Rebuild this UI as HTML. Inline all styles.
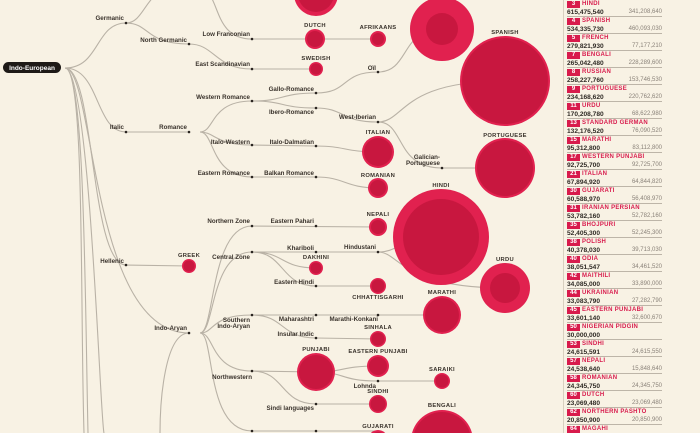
<!DOCTYPE html>
<html><head><meta charset="utf-8"><style>
html,body{margin:0;padding:0;background:#f8f2e4;}
body{width:700px;height:433px;overflow:hidden;position:relative;font-family:"Liberation Sans",sans-serif;}
svg{position:absolute;left:0;top:0}
.t{font-size:6.2px;font-weight:bold;fill:#3a332c}
.c{font-size:5.8px;font-weight:bold;fill:#3a332c;text-anchor:middle;letter-spacing:0.3px}
#panel{position:absolute;left:563px;top:0;width:100px;height:433px;border-left:1px solid #d8d0c0;overflow:hidden}
.row{position:absolute;left:3px;width:95px;height:17px;border-bottom:1px solid #bdb5a8;box-sizing:border-box}
.b{position:absolute;left:0;top:1px;width:13px;height:7px;background:#d81b4c;color:#fff;font-size:6px;font-weight:bold;line-height:7px;text-align:center}
.n{position:absolute;left:15px;top:0;font-size:6px;font-weight:bold;color:#d81b4c;line-height:9px;letter-spacing:0.3px;white-space:nowrap}
.v{position:absolute;left:0;top:8px;font-size:6.6px;font-weight:bold;color:#2f2a25;line-height:9px}
.g{position:absolute;right:0;top:8px;font-size:6px;color:#8a8279;line-height:9px}
</style></head><body>
<svg width="700" height="433" viewBox="0 0 700 433">
<g fill="none" stroke="#b9b2a6" stroke-width="1.1">
<path d="M65,68 C100,68 95,23 126,23"/>
<path d="M126,23 C145,23 145,-10 175,-15"/>
<path d="M126,23 C150,23 145,44 189,44"/>
<path d="M189,44 C215,44 215,69 252,69 L316,69"/>
<path d="M205,-10 C220,0 215,39 252,39 L378,39"/>
<path d="M252,-15 C265,-10 270,-6 316,-6"/>
<path d="M65,68 C100,68 95,132 126,132 L189,132"/>
<path d="M200,132 C215,132 210,101 252,101"/>
<path d="M200,132 C215,132 215,145 252,145 L316,146"/>
<path d="M200,132 C215,132 210,177 252,177 L316,177"/>
<path d="M252,101 C285,101 280,93 316,93"/>
<path d="M252,101 C285,101 280,108 316,108"/>
<path d="M316,93 C350,93 340,72 378,72 C410,72 400,29 442,29"/>
<path d="M316,108 C345,108 340,122 378,122"/>
<path d="M378,122 C405,122 400,81 505,81"/>
<path d="M378,122 C405,122 395,168 442,168 L505,168"/>
<path d="M316,146 C345,146 345,152 378,152"/>
<path d="M316,177 C345,177 345,188 378,188"/>
<path d="M65,68 C95,68 90,265 126,265 L189,266"/>
<path d="M65,68 C85,68 80,300 84,433"/>
<path d="M65,68 C85,68 85,300 88,433"/>
<path d="M65,68 C95,68 90,333 189,333"/>
<path d="M65,68 C90,68 100,420 104,433"/>
<path d="M200,333 C215,333 210,226 252,226 L378,227"/>
<path d="M200,333 C215,333 210,252 252,252 L378,252"/>
<path d="M200,333 C215,333 210,315 252,315 L442,315"/>
<path d="M200,333 C215,333 210,371 252,371 L316,372"/>
<path d="M200,333 C215,333 205,431 252,431 L378,431"/>
<path d="M160,433 C160,400 165,333 189,333"/>
<path d="M252,252 C285,252 280,268 316,268"/>
<path d="M252,252 C285,252 280,286 316,286 L378,286"/>
<path d="M378,252 C400,252 400,237 442,237"/>
<path d="M378,252 C400,252 400,288 505,288"/>
<path d="M252,315 C285,315 280,338 316,338 L378,339"/>
<path d="M316,372 C345,372 340,366 378,366"/>
<path d="M316,372 C345,372 340,381 378,381 L442,381"/>
<path d="M252,371 C285,371 280,404 316,404 L378,404"/>
</g>
<g fill="#e1214f">
<circle cx="316" cy="-6" r="22"/><circle cx="315" cy="39" r="10"/><circle cx="378" cy="39" r="8"/>
<circle cx="316" cy="69" r="7"/><circle cx="442" cy="29" r="32"/><circle cx="505" cy="81" r="45"/>
<circle cx="505" cy="168" r="30"/><circle cx="378" cy="152" r="16"/><circle cx="378" cy="188" r="10"/>
<circle cx="441" cy="237" r="48"/><circle cx="505" cy="288" r="25"/><circle cx="378" cy="227" r="9"/>
<circle cx="316" cy="268" r="7"/><circle cx="378" cy="286" r="8"/><circle cx="442" cy="315" r="19"/>
<circle cx="378" cy="339" r="8"/><circle cx="316" cy="372" r="19"/><circle cx="378" cy="366" r="11"/>
<circle cx="442" cy="381" r="8"/><circle cx="378" cy="404" r="9"/><circle cx="442" cy="441" r="31"/>
<circle cx="378" cy="440" r="10"/><circle cx="189" cy="266" r="7"/>
</g>
<g fill="#c8173f">
<circle cx="316" cy="-6" r="18"/><circle cx="315" cy="39" r="8"/><circle cx="378" cy="39" r="6"/>
<circle cx="316" cy="69" r="5.5"/><circle cx="442" cy="29" r="16"/><circle cx="505" cy="81" r="43"/>
<circle cx="505" cy="168" r="28"/><circle cx="378" cy="152" r="14"/><circle cx="378" cy="188" r="8"/>
<circle cx="441" cy="237" r="38"/><circle cx="505" cy="288" r="15"/><circle cx="378" cy="227" r="7"/>
<circle cx="316" cy="268" r="5.5"/><circle cx="378" cy="286" r="6.5"/><circle cx="442" cy="315" r="17"/>
<circle cx="378" cy="339" r="6.5"/><circle cx="316" cy="372" r="17"/><circle cx="378" cy="366" r="9"/>
<circle cx="442" cy="381" r="6.5"/><circle cx="378" cy="404" r="7.5"/><circle cx="442" cy="441" r="29"/>
<circle cx="378" cy="440" r="8"/><circle cx="189" cy="266" r="5.5"/>
</g>
<g fill="#2a2520">
<circle cx="126" cy="23" r="1.3"/><circle cx="189" cy="44" r="1.3"/><circle cx="252" cy="39" r="1.3"/><circle cx="252" cy="69" r="1.3"/>
<circle cx="126" cy="132" r="1.3"/><circle cx="189" cy="132" r="1.3"/><circle cx="252" cy="101" r="1.3"/><circle cx="252" cy="145" r="1.3"/><circle cx="252" cy="177" r="1.3"/>
<circle cx="316" cy="93" r="1.3"/><circle cx="316" cy="108" r="1.3"/><circle cx="316" cy="146" r="1.3"/><circle cx="316" cy="177" r="1.3"/>
<circle cx="378" cy="72" r="1.3"/><circle cx="378" cy="122" r="1.3"/><circle cx="442" cy="168" r="1.3"/>
<circle cx="126" cy="265" r="1.3"/><circle cx="189" cy="333" r="1.3"/><circle cx="252" cy="226" r="1.3"/><circle cx="252" cy="252" r="1.3"/>
<circle cx="252" cy="315" r="1.3"/><circle cx="252" cy="371" r="1.3"/><circle cx="252" cy="431" r="1.3"/><circle cx="316" cy="431" r="1.3"/>
<circle cx="316" cy="226" r="1.3"/><circle cx="316" cy="252" r="1.3"/><circle cx="316" cy="286" r="1.3"/><circle cx="378" cy="252" r="1.3"/>
<circle cx="316" cy="315" r="1.3"/><circle cx="378" cy="315" r="1.3"/><circle cx="316" cy="338" r="1.3"/><circle cx="378" cy="381" r="1.3"/><circle cx="316" cy="404" r="1.3"/>
</g>
<rect x="3" y="62" width="58" height="11" rx="5.5" fill="#1e1a17"/>
<text x="32" y="70" style="font-size:6.5px;font-weight:bold;fill:#fff;text-anchor:middle">Indo-European</text>
<g class="t" text-anchor="end">
<text x="124" y="20">Germanic</text><text x="187" y="42">North Germanic</text><text x="250" y="36">Low Franconian</text>
<text x="250" y="66">East Scandinavian</text><text x="250" y="99">Western Romance</text><text x="124" y="129">Italic</text>
<text x="187" y="129">Romance</text><text x="250" y="144">Italo-Western</text><text x="250" y="175">Eastern Romance</text>
<text x="314" y="91">Gallo-Romance</text><text x="314" y="114">Ibero-Romance</text><text x="314" y="144">Italo-Dalmatian</text>
<text x="314" y="175">Balkan Romance</text><text x="376" y="70">Oïl</text><text x="376" y="119">West-Iberian</text>
<text x="440" y="159">Galician-</text><text x="440" y="165">Portuguese</text>
<text x="124" y="263">Hellenic</text><text x="187" y="330">Indo-Aryan</text><text x="250" y="223">Northern Zone</text>
<text x="250" y="259">Central Zone</text><text x="250" y="322">Southern</text><text x="250" y="328">Indo-Aryan</text>
<text x="252" y="379">Northwestern</text><text x="314" y="223">Eastern Pahari</text><text x="314" y="250">Khariboli</text>
<text x="314" y="284">Eastern Hindi</text><text x="376" y="249">Hindustani</text><text x="314" y="321">Maharashtri</text>
<text x="378" y="321">Marathi-Konkani</text><text x="314" y="336">Insular Indic</text><text x="376" y="388">Lohnda</text>
<text x="314" y="410">Sindi languages</text>
</g>
<g class="c">
<text x="315" y="27">DUTCH</text><text x="378" y="29">AFRIKAANS</text><text x="316" y="60">SWEDISH</text>
<text x="505" y="34">SPANISH</text><text x="505" y="137">PORTUGUESE</text><text x="378" y="134">ITALIAN</text>
<text x="378" y="177">ROMANIAN</text><text x="441" y="187">HINDI</text><text x="505" y="261">URDU</text>
<text x="378" y="216">NEPALI</text><text x="316" y="259">DAKHINI</text><text x="378" y="299">CHHATTISGARHI</text>
<text x="442" y="294">MARATHI</text><text x="378" y="329">SINHALA</text><text x="316" y="351">PUNJABI</text>
<text x="378" y="353">EASTERN PUNJABI</text><text x="442" y="371">SARAIKI</text><text x="378" y="393">SINDHI</text>
<text x="442" y="407">BENGALI</text><text x="378" y="428">GUJARATI</text><text x="189" y="257">GREEK</text>
</g>
</svg>
<div id="panel">
<div class="row" style="top:0"><span class="b">3</span><span class="n">HINDI</span><span class="v">615,475,540</span><span class="g">341,208,640</span></div>
<div class="row" style="top:17px"><span class="b">4</span><span class="n">SPANISH</span><span class="v">534,335,730</span><span class="g">460,093,030</span></div>
<div class="row" style="top:34px"><span class="b">5</span><span class="n">FRENCH</span><span class="v">279,821,930</span><span class="g">77,177,210</span></div>
<div class="row" style="top:51px"><span class="b">7</span><span class="n">BENGALI</span><span class="v">265,042,480</span><span class="g">228,289,600</span></div>
<div class="row" style="top:68px"><span class="b">8</span><span class="n">RUSSIAN</span><span class="v">258,227,760</span><span class="g">153,746,530</span></div>
<div class="row" style="top:85px"><span class="b">9</span><span class="n">PORTUGUESE</span><span class="v">234,168,620</span><span class="g">220,762,620</span></div>
<div class="row" style="top:102px"><span class="b">11</span><span class="n">URDU</span><span class="v">170,208,780</span><span class="g">68,622,980</span></div>
<div class="row" style="top:119px"><span class="b">13</span><span class="n">STANDARD GERMAN</span><span class="v">132,176,520</span><span class="g">76,090,520</span></div>
<div class="row" style="top:136px"><span class="b">15</span><span class="n">MARATHI</span><span class="v">95,312,800</span><span class="g">83,112,800</span></div>
<div class="row" style="top:153px"><span class="b">17</span><span class="n">WESTERN PUNJABI</span><span class="v">92,725,700</span><span class="g">92,725,700</span></div>
<div class="row" style="top:170px"><span class="b">21</span><span class="n">ITALIAN</span><span class="v">67,894,920</span><span class="g">64,844,820</span></div>
<div class="row" style="top:187px"><span class="b">30</span><span class="n">GUJARATI</span><span class="v">60,588,970</span><span class="g">56,408,970</span></div>
<div class="row" style="top:204px"><span class="b">31</span><span class="n">IRANIAN PERSIAN</span><span class="v">53,782,160</span><span class="g">52,782,160</span></div>
<div class="row" style="top:221px"><span class="b">35</span><span class="n">BHOJPURI</span><span class="v">52,405,300</span><span class="g">52,245,300</span></div>
<div class="row" style="top:238px"><span class="b">38</span><span class="n">POLISH</span><span class="v">40,378,030</span><span class="g">39,713,030</span></div>
<div class="row" style="top:255px"><span class="b">40</span><span class="n">ODIA</span><span class="v">38,051,547</span><span class="g">34,461,520</span></div>
<div class="row" style="top:272px"><span class="b">42</span><span class="n">MAITHILI</span><span class="v">34,085,000</span><span class="g">33,890,000</span></div>
<div class="row" style="top:289px"><span class="b">44</span><span class="n">UKRAINIAN</span><span class="v">33,083,790</span><span class="g">27,282,790</span></div>
<div class="row" style="top:306px"><span class="b">45</span><span class="n">EASTERN PUNJABI</span><span class="v">33,601,140</span><span class="g">32,600,670</span></div>
<div class="row" style="top:323px"><span class="b">50</span><span class="n">NIGERIAN PIDGIN</span><span class="v">30,000,000</span></div>
<div class="row" style="top:340px"><span class="b">53</span><span class="n">SINDHI</span><span class="v">24,615,591</span><span class="g">24,615,550</span></div>
<div class="row" style="top:357px"><span class="b">57</span><span class="n">NEPALI</span><span class="v">24,538,640</span><span class="g">15,848,640</span></div>
<div class="row" style="top:374px"><span class="b">58</span><span class="n">ROMANIAN</span><span class="v">24,345,750</span><span class="g">24,345,750</span></div>
<div class="row" style="top:391px"><span class="b">60</span><span class="n">DUTCH</span><span class="v">23,069,480</span><span class="g">23,069,480</span></div>
<div class="row" style="top:408px"><span class="b">62</span><span class="n">NORTHERN PASHTO</span><span class="v">20,850,900</span><span class="g">20,850,900</span></div>
<div class="row" style="top:425px;height:8px;border:none"><span class="b">64</span><span class="n">MAGAHI</span></div>
</div>
</body></html>
